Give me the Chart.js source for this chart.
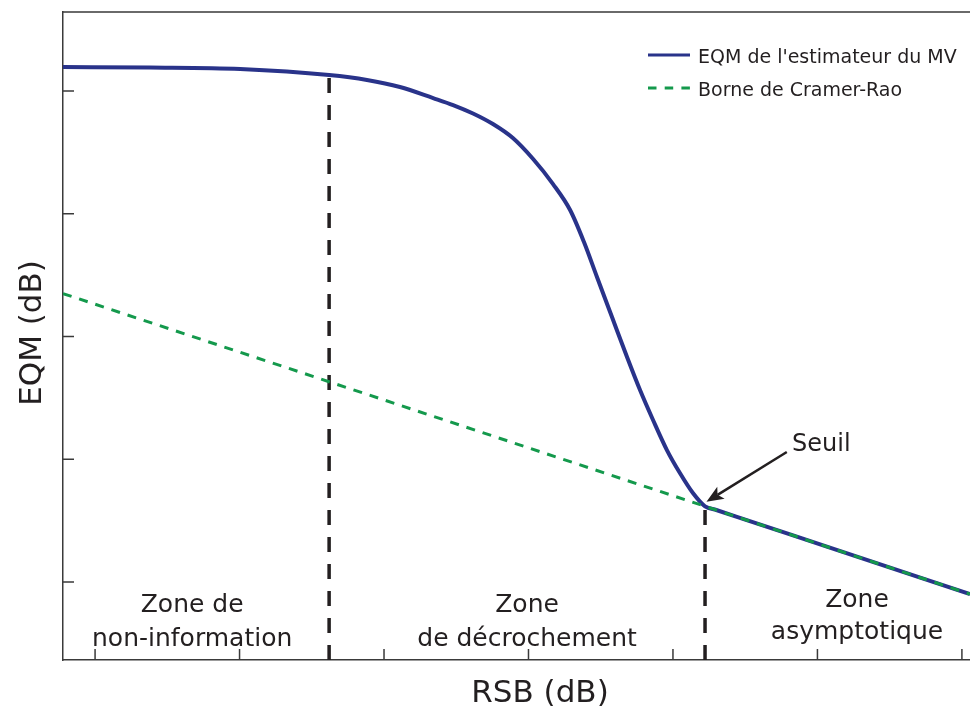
<!DOCTYPE html>
<html>
<head>
<meta charset="utf-8">
<script src="https://cdn.jsdelivr.net/npm/chart.js@4.4.1/dist/chart.umd.min.js"></script>
<style>
  html, body { margin: 0; padding: 0; background: #fff; }
</style>
</head>
<body>
<canvas id="myChart" width="970" height="709"></canvas>
<script>
// RSB (dB) / EQM (dB) values
const mvX = [-16.11, -13.10, -9.98, -6.90, -5.59, -4.45, -3.30, -2.61, -1.92, -1.23, -0.54, 0.16, 0.85, 1.44, 1.92, 2.37, 2.89, 3.41, 3.86, 4.31, 4.79, 5.24, 5.69, 6.11, 6.50, 7.50, 10.69, 15.28];
const mvY = [1.95, 1.91, 1.79, 1.30, 0.90, 0.33, -0.57, -1.14, -1.83, -2.69, -3.83, -5.54, -7.58, -9.69, -12.30, -15.15, -18.41, -21.67, -24.36, -26.80, -29.25, -31.12, -32.75, -33.83, -34.13, -34.91, -37.40, -40.98];
const crbX = [-16.11, 6.11, 15.28];
const crbY = [-16.50, -33.83, -40.98];

const seriesLabels = ["EQM de l'estimateur du MV", "Borne de Cramer-Rao"];
const axisTitles = ['RSB (dB)', 'EQM (dB)'];
const xTickValues = [-15, -10, -5, 0, 5, 10, 15];
const yTickValues = [-40, -30, -20, -10, 0];

// zone boundaries: end of non-information zone and threshold
const boundaryX = [-6.90, 6.11];
const boundaryTopY = [1.30, -33.83];

const zoneLabels = [["Zone de", "non-information"], ["Zone", "de décrochement"], ["Zone", "asymptotique"]];
const seuilLabel = "Seuil";

const xMin = -16.11, xMax = 15.28, yMin = -46.35, yMax = 6.44;

const blue = '#29338a';
const green = '#14994c';
const ink = '#231f20';
const axisColor = '#3a3a3a';
const fontFamily = "'DejaVu Sans', Verdana, sans-serif";

// annotation placement (data coords)
const zoneCenters = [-11.64, -0.05, 11.37];
const zoneBaselines = [[-42.44, -45.25], [-42.44, -45.25], [-42.04, -44.60]];
const arrowFrom = {x: 8.94, y: -29.41};
const arrowTo = {x: 6.16, y: -33.45};
const seuilPos = {x: 9.12, y: -28.84};

function pts(xs, ys) {
    return xs.map((v, i) => ({x: v, y: ys[i]}));
}

const datasets = [
    {
        label: seriesLabels[1],
        data: pts(crbX, crbY),
        borderColor: green,
        borderWidth: 3,
        borderDash: [9, 8],
        pointRadius: 0,
        order: 0
    },
    {
        label: seriesLabels[0],
        data: pts(mvX, mvY),
        borderColor: blue,
        borderWidth: 4,
        pointRadius: 0,
        cubicInterpolationMode: 'monotone',
        order: 1
    }
];
boundaryX.forEach((bx, i) => {
    datasets.push({
        label: 'limite' + i,
        data: [{x: bx, y: yMin}, {x: bx, y: boundaryTopY[i]}],
        borderColor: ink,
        borderWidth: 3.5,
        borderDash: [15, 12],
        pointRadius: 0,
        order: 2
    });
});

const decorPlugin = {
    id: 'decor',
    afterDraw(chart) {
        const {ctx, chartArea: a, scales: {x, y}} = chart;
        ctx.save();

        // top frame line and inward ticks
        ctx.strokeStyle = axisColor;
        ctx.lineWidth = 1.5;
        ctx.beginPath();
        ctx.moveTo(a.left, a.top);
        ctx.lineTo(a.right, a.top);
        xTickValues.forEach(v => {
            const px = x.getPixelForValue(v);
            ctx.moveTo(px, a.bottom);
            ctx.lineTo(px, a.bottom - 11);
        });
        yTickValues.forEach(v => {
            const py = y.getPixelForValue(v);
            ctx.moveTo(a.left, py);
            ctx.lineTo(a.left + 11, py);
        });
        ctx.stroke();

        ctx.fillStyle = ink;

        // axis titles
        ctx.font = '31px ' + fontFamily;
        ctx.textAlign = 'center';
        ctx.textBaseline = 'alphabetic';
        ctx.fillText(axisTitles[0], a.left + 477, a.bottom + 42);
        ctx.save();
        ctx.translate(a.left - 22, a.top + 321);
        ctx.rotate(-Math.PI / 2);
        ctx.fillText(axisTitles[1], 0, 0);
        ctx.restore();

        // zone labels
        ctx.font = '25px ' + fontFamily;
        zoneLabels.forEach((lines, i) => {
            lines.forEach((t, j) => {
                ctx.fillText(t, x.getPixelForValue(zoneCenters[i]), y.getPixelForValue(zoneBaselines[i][j]));
            });
        });

        // Seuil arrow
        const sx = x.getPixelForValue(arrowFrom.x), sy = y.getPixelForValue(arrowFrom.y);
        const tx = x.getPixelForValue(arrowTo.x), ty = y.getPixelForValue(arrowTo.y);
        const len = Math.hypot(tx - sx, ty - sy);
        const dx = (tx - sx) / len, dy = (ty - sy) / len;
        const bx = tx - dx * 17, by = ty - dy * 17;
        ctx.strokeStyle = ink;
        ctx.lineWidth = 2.5;
        ctx.beginPath();
        ctx.moveTo(sx, sy);
        ctx.lineTo(bx + dx * 4, by + dy * 4);
        ctx.stroke();
        ctx.beginPath();
        ctx.moveTo(tx, ty);
        ctx.lineTo(bx - dy * 7, by + dx * 7);
        ctx.lineTo(bx + dx * 4, by + dy * 4);
        ctx.lineTo(bx + dy * 7, by - dx * 7);
        ctx.closePath();
        ctx.fill();

        ctx.font = '24px ' + fontFamily;
        ctx.textAlign = 'left';
        ctx.textBaseline = 'middle';
        ctx.fillText(seuilLabel, x.getPixelForValue(seuilPos.x), y.getPixelForValue(seuilPos.y));

        // legend in the upper right corner
        const lx = a.right - 322, ly = a.top + 43;
        ctx.lineWidth = 3;
        ctx.strokeStyle = blue;
        ctx.beginPath();
        ctx.moveTo(lx, ly);
        ctx.lineTo(lx + 42, ly);
        ctx.stroke();
        ctx.strokeStyle = green;
        ctx.setLineDash([8.5, 8.2]);
        ctx.beginPath();
        ctx.moveTo(lx, ly + 33);
        ctx.lineTo(lx + 42, ly + 33);
        ctx.stroke();
        ctx.setLineDash([]);
        ctx.font = '19px ' + fontFamily;
        ctx.textBaseline = 'alphabetic';
        ctx.fillText(seriesLabels[0], lx + 50, ly + 8);
        ctx.fillText(seriesLabels[1], lx + 50, ly + 41);

        ctx.restore();
    }
};

new Chart(document.getElementById('myChart').getContext('2d'), {
    type: 'line',
    data: { datasets: datasets },
    options: {
        responsive: false,
        animation: false,
        layout: { padding: { top: 12, right: 0, bottom: 0, left: 0 } },
        plugins: {
            legend: { display: false },
            tooltip: { enabled: false }
        },
        scales: {
            x: {
                type: 'linear',
                min: xMin,
                max: xMax,
                grid: { display: false },
                ticks: { display: false },
                border: { display: true, color: axisColor, width: 1.5 },
                afterFit: s => { s.height = 49; }
            },
            y: {
                min: yMin,
                max: yMax,
                grid: { display: false },
                ticks: { display: false },
                border: { display: true, color: axisColor, width: 1.5 },
                afterFit: s => { s.width = 63; }
            }
        }
    },
    plugins: [decorPlugin]
});
</script>
</body>
</html>
